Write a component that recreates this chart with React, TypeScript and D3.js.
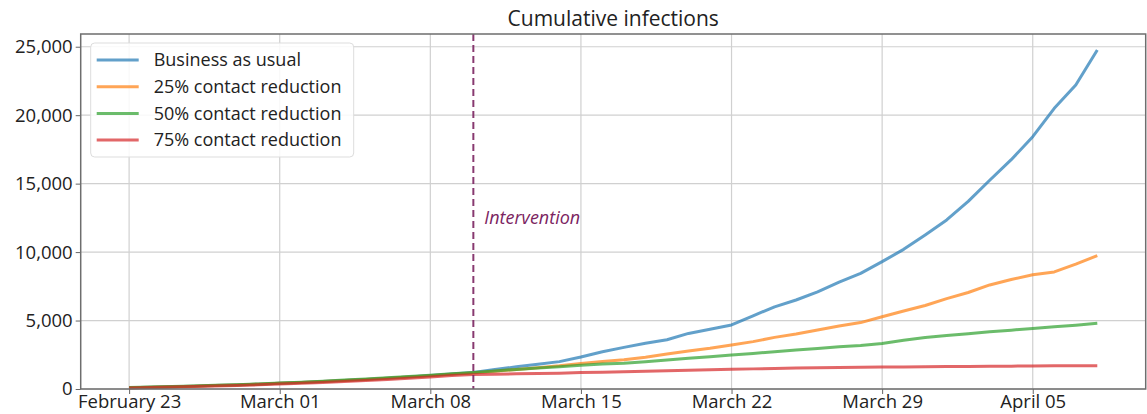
import React, { useEffect, useRef } from 'react'
import * as d3 from 'd3'

// days from Feb 23 2020 to Apr 08 2020
const startDate = Date.UTC(2020, 1, 23)
const dayCount = 46

const businessAsUsual = [100, 130, 170, 210, 250, 300, 350, 420, 480, 550, 620, 700, 790, 880, 990, 1090, 1200, 1420, 1620, 1800, 2000, 2340, 2720, 3040, 3340, 3600, 4060, 4360, 4680, 5350, 6000, 6500, 7100, 7800, 8450, 9300, 10200, 11250, 12350, 13700, 15250, 16750, 18430, 20500, 22200, 24760]
const reduction25 = [100, 130, 170, 210, 250, 300, 350, 420, 480, 550, 620, 700, 780, 870, 970, 1070, 1170, 1300, 1420, 1550, 1690, 1870, 2000, 2130, 2320, 2550, 2780, 2980, 3220, 3460, 3770, 4020, 4310, 4600, 4850, 5280, 5700, 6100, 6600, 7050, 7600, 8000, 8350, 8550, 9120, 9740]
const reduction50 = [110, 140, 180, 220, 265, 315, 370, 440, 500, 575, 650, 730, 820, 910, 1010, 1110, 1210, 1320, 1430, 1530, 1630, 1740, 1820, 1880, 1990, 2110, 2240, 2360, 2480, 2600, 2720, 2840, 2960, 3080, 3180, 3320, 3560, 3760, 3910, 4030, 4180, 4300, 4420, 4540, 4660, 4800]
const reduction75 = [80, 105, 140, 175, 215, 260, 305, 360, 420, 480, 550, 620, 700, 790, 880, 980, 1050, 1085, 1110, 1130, 1150, 1200, 1230, 1260, 1290, 1330, 1370, 1400, 1440, 1470, 1500, 1530, 1550, 1570, 1585, 1600, 1610, 1620, 1635, 1650, 1660, 1670, 1680, 1690, 1695, 1700]

const seriesNames = ['Business as usual', '25% contact reduction', '50% contact reduction', '75% contact reduction']
const seriesColors = ['#1f77b4', '#ff7f0e', '#2ca02c', '#d62728']
const yTicks = [0, 5000, 10000, 15000, 20000, 25000]
const xTickDates = ['2020-02-23', '2020-03-01', '2020-03-08', '2020-03-15', '2020-03-22', '2020-03-29', '2020-04-05']
const interventionDate = '2020-03-10'

const FONT = '"Open Sans", Lato, sans-serif'

export default function App() {
  const ref = useRef<SVGSVGElement>(null)

  useEffect(() => {
    const outerWidth = 1147
    const outerHeight = 414
    const margin = { top: 34, right: 1.3, bottom: 25, left: 80.7 }
    const width = outerWidth - margin.left - margin.right
    const height = outerHeight - margin.top - margin.bottom

    const root = d3.select(ref.current)
    root.selectAll('*').remove()
    root.attr('width', outerWidth).attr('height', outerHeight)

    const svg = root.append('g').attr('transform', `translate(${margin.left},${margin.top})`)

    const dates = d3.range(dayCount).map(i => new Date(startDate + i * 864e5))
    const all = [businessAsUsual, reduction25, reduction50, reduction75]

    // matplotlib-like 5% padding on x
    const first = dates[0].getTime()
    const last = dates[dates.length - 1].getTime()
    const pad = (last - first) * 0.05
    const x = d3.scaleUtc().domain([new Date(first - pad), new Date(last + pad)]).range([0, width])
    const y = d3.scaleLinear().domain([0, 25930]).range([height, 0])

    const xTicks = xTickDates.map(s => new Date(s + 'T00:00:00Z'))

    // grid
    svg.append('g')
      .selectAll('line')
      .data(yTicks)
      .join('line')
      .attr('x1', 0).attr('x2', width)
      .attr('y1', d => y(d)).attr('y2', d => y(d))
      .attr('stroke', '#d0d0d0').attr('stroke-width', 1.2)
    svg.append('g')
      .selectAll('line')
      .data(xTicks)
      .join('line')
      .attr('x1', d => x(d)).attr('x2', d => x(d))
      .attr('y1', 0).attr('y2', height)
      .attr('stroke', '#d0d0d0').attr('stroke-width', 1.2)

    // axes
    const fmt = d3.utcFormat('%B %d')
    const xAxis = svg.append('g')
      .attr('transform', `translate(0,${height})`)
      .call(d3.axisBottom(x).tickValues(xTicks).tickFormat(d => fmt(d as Date)).tickSize(5).tickPadding(1))
    xAxis.select('.domain').remove()
    xAxis.selectAll('line').attr('stroke', '#666')
    xAxis.selectAll('text').attr('font-family', FONT).attr('font-size', 18.5).attr('fill', '#222')

    const yAxis = svg.append('g')
      .call(d3.axisLeft(y).tickValues(yTicks).tickFormat(d3.format(',')).tickSize(5).tickPadding(3))
    yAxis.select('.domain').remove()
    yAxis.selectAll('line').attr('stroke', '#666')
    yAxis.selectAll('text').attr('font-family', FONT).attr('font-size', 18.5).attr('fill', '#222')

    // lines
    const line = d3.line<number>()
      .x((d, i) => x(dates[i]))
      .y(d => y(d))

    svg.append('g')
      .selectAll('path')
      .data(all)
      .join('path')
      .attr('fill', 'none')
      .attr('stroke', (d, i) => seriesColors[i])
      .attr('stroke-opacity', 0.7)
      .attr('stroke-width', 3)
      .attr('stroke-linejoin', 'round')
      .attr('d', d => line(d))

    // intervention marker
    const xi = x(new Date(interventionDate + 'T00:00:00Z'))
    svg.append('line')
      .attr('x1', xi).attr('x2', xi)
      .attr('y1', 0).attr('y2', height)
      .attr('stroke', '#7b2461')
      .attr('stroke-opacity', 0.9)
      .attr('stroke-width', 2)
      .attr('stroke-dasharray', '7,4')
    svg.append('text')
      .attr('x', xi + 11)
      .attr('y', y(12050))
      .attr('font-family', FONT)
      .attr('font-style', 'italic')
      .attr('font-size', 18)
      .attr('fill', '#7b2461')
      .text('Intervention')

    // frame
    svg.append('rect')
      .attr('width', width).attr('height', height)
      .attr('fill', 'none')
      .attr('stroke', '#6e6e6e').attr('stroke-width', 1.5)

    // title
    svg.append('text')
      .attr('x', width / 2)
      .attr('y', -8)
      .attr('text-anchor', 'middle')
      .attr('font-family', FONT)
      .attr('font-size', 21)
      .attr('fill', '#222')
      .text('Cumulative infections')

    // legend
    const lg = svg.append('g').attr('transform', 'translate(10,9)')
    lg.append('rect')
      .attr('width', 263).attr('height', 114)
      .attr('rx', 4)
      .attr('fill', 'white').attr('fill-opacity', 0.85)
      .attr('stroke', '#dddddd')
    const rows = lg.selectAll('g.row')
      .data(seriesNames)
      .join('g')
      .attr('class', 'row')
      .attr('transform', (d, i) => `translate(0,${17 + i * 26.7})`)
    rows.append('line')
      .attr('x1', 6).attr('x2', 48)
      .attr('stroke', (d, i) => seriesColors[i])
      .attr('stroke-opacity', 0.7)
      .attr('stroke-width', 3)
    rows.append('text')
      .attr('x', 63)
      .attr('dy', '0.35em')
      .attr('font-family', FONT)
      .attr('font-size', 18)
      .attr('fill', '#222')
      .text(d => d)
  }, [])

  return <svg ref={ref} style={{ position: 'absolute', left: 0, top: 0 }} />
}
